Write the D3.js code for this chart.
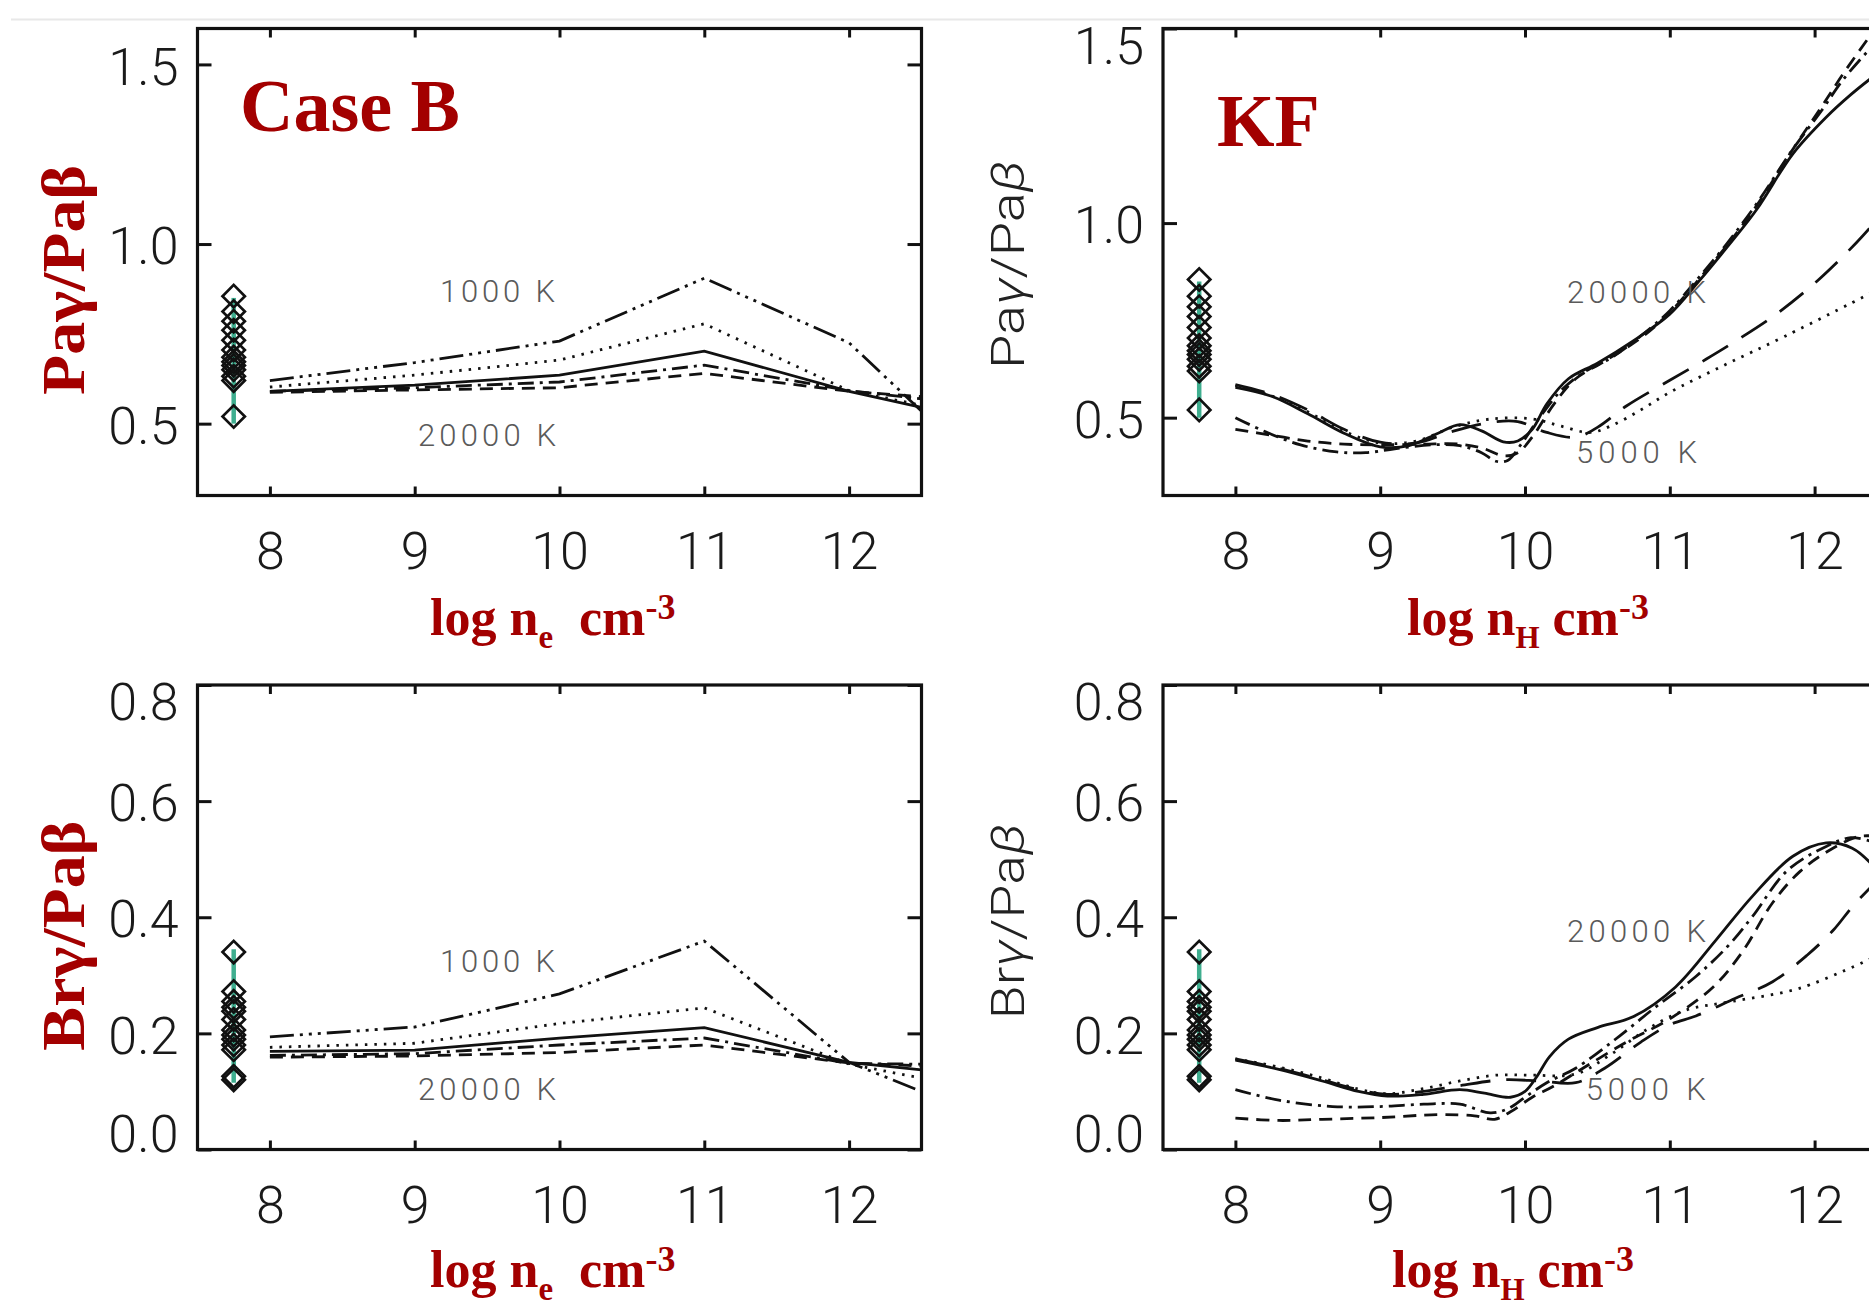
<!DOCTYPE html>
<html lang="en">
<head>
<meta charset="UTF-8">
<title>Pa / Br line ratios</title>
<script src="https://cdn.jsdelivr.net/npm/d3@7"></script>
<style>
  body { margin: 0; background: #fff; }
  svg { display: block; }
</style>
</head>
<body>
<script>

// ---- data ----
var xTicks = [8, 9, 10, 11, 12];

// Case B, vertices at log ne
var caseBx = [8, 9, 10, 11, 12, 12.5];
var caseBPag1000   = [0.620, 0.670, 0.730, 0.905, 0.725, 0.535];
var caseBPagDotted = [0.602, 0.635, 0.677, 0.778, 0.592, 0.551];
var caseBPagSolid  = [0.590, 0.607, 0.635, 0.702, 0.590, 0.545];
var caseBPagDashDot= [0.590, 0.600, 0.616, 0.663, 0.592, 0.569];
var caseBPag20000  = [0.587, 0.594, 0.600, 0.640, 0.590, 0.575];

var caseBBrg1000   = [0.194, 0.211, 0.268, 0.359, 0.150, 0.100];
var caseBBrgDotted = [0.176, 0.183, 0.217, 0.244, 0.147, 0.123];
var caseBBrgSolid  = [0.169, 0.171, 0.192, 0.210, 0.150, 0.137];
var caseBBrgDashDot= [0.162, 0.165, 0.180, 0.192, 0.148, 0.147];
var caseBBrg20000  = [0.159, 0.161, 0.167, 0.180, 0.149, 0.144];

// KF models, [log nH, ratio]
var kfPagSolid = [[8,0.578],[8.25,0.555],[8.5,0.51],[8.75,0.46],[9.0,0.425],[9.2,0.428],[9.4,0.46],[9.55,0.482],[9.7,0.466],[9.85,0.438],[9.95,0.44],[10.05,0.47],[10.15,0.535],[10.3,0.6],[10.5,0.64],[10.75,0.698],[11.0,0.766],[11.2,0.85],[11.4,0.94],[11.6,1.035],[11.85,1.178],[12.08,1.272],[12.25,1.33],[12.4,1.375]];
var kfPagDashDot = [[8,0.50],[8.2,0.465],[8.45,0.43],[8.7,0.412],[8.9,0.41],[9.1,0.42],[9.35,0.43],[9.55,0.428],[9.7,0.41],[9.8,0.388],[9.88,0.39],[9.97,0.43],[10.1,0.5],[10.25,0.57],[10.4,0.615],[10.6,0.655],[10.8,0.71],[11.0,0.775],[11.2,0.86],[11.4,0.95],[11.6,1.05],[11.85,1.19],[12.05,1.29],[12.2,1.37],[12.4,1.455]];
var kfPagDashed = [[8,0.47],[8.25,0.455],[8.5,0.44],[8.75,0.432],[9.0,0.43],[9.3,0.432],[9.55,0.432],[9.72,0.42],[9.85,0.402],[9.95,0.41],[10.05,0.45],[10.2,0.535],[10.35,0.6],[10.55,0.645],[10.8,0.705],[11.0,0.77],[11.2,0.855],[11.4,0.945],[11.6,1.045],[11.85,1.19],[12.05,1.3],[12.2,1.385],[12.4,1.49]];
var kfPagLongDash = [[8,0.585],[8.25,0.56],[8.5,0.52],[8.75,0.47],[9.0,0.437],[9.25,0.435],[9.5,0.465],[9.75,0.487],[9.95,0.49],[10.15,0.462],[10.35,0.45],[10.5,0.475],[10.7,0.53],[11.0,0.596],[11.25,0.65],[11.46,0.698],[11.735,0.766],[12.02,0.852],[12.29,0.95],[12.4,0.995]];
var kfPagDotted = [[8,0.582],[8.25,0.556],[8.5,0.515],[8.75,0.465],[9.0,0.435],[9.25,0.44],[9.5,0.475],[9.75,0.496],[10.05,0.497],[10.25,0.478],[10.45,0.462],[10.6,0.48],[10.8,0.52],[11.0,0.565],[11.36,0.632],[11.8,0.71],[12.4,0.822]];

var kfBrgSolid = [[8,0.154],[8.3,0.138],[8.6,0.118],[8.85,0.1],[9.05,0.092],[9.3,0.095],[9.55,0.103],[9.72,0.097],[9.9,0.09],[10.0,0.1],[10.08,0.125],[10.17,0.16],[10.3,0.19],[10.5,0.21],[10.75,0.229],[11.04,0.28],[11.32,0.361],[11.57,0.436],[11.85,0.505],[12.08,0.528],[12.26,0.519],[12.4,0.49]];
var kfBrgDashDot = [[8,0.103],[8.3,0.085],[8.67,0.074],[9.0,0.074],[9.3,0.078],[9.55,0.078],[9.76,0.063],[9.88,0.07],[10.0,0.09],[10.15,0.115],[10.35,0.14],[10.62,0.189],[10.9,0.245],[11.18,0.298],[11.4,0.35],[11.57,0.401],[11.81,0.48],[12.08,0.522],[12.25,0.537],[12.4,0.53]];
var kfBrgDashed = [[8,0.054],[8.3,0.05],[8.6,0.052],[9.0,0.055],[9.4,0.06],[9.65,0.058],[9.79,0.052],[9.9,0.065],[10.05,0.09],[10.19,0.108],[10.4,0.14],[10.7,0.185],[11.0,0.225],[11.3,0.28],[11.5,0.34],[11.71,0.425],[11.9,0.479],[12.1,0.515],[12.3,0.539],[12.4,0.54]];
var kfBrgLongDash = [[8,0.156],[8.3,0.14],[8.6,0.12],[8.85,0.103],[9.05,0.095],[9.3,0.1],[9.55,0.11],[9.85,0.12],[10.1,0.118],[10.35,0.115],[10.55,0.14],[10.8,0.185],[11.0,0.215],[11.18,0.23],[11.45,0.26],[11.71,0.289],[11.95,0.335],[12.13,0.378],[12.26,0.418],[12.4,0.455]];
var kfBrgDotted = [[8,0.156],[8.3,0.142],[8.6,0.123],[8.85,0.104],[9.05,0.096],[9.3,0.105],[9.55,0.118],[9.8,0.128],[10.05,0.128],[10.35,0.13],[10.6,0.165],[10.85,0.208],[11.11,0.24],[11.43,0.255],[11.9,0.278],[12.4,0.33]];

// observed ratios (diamonds) and their range bar
var obsX = 7.75;
var obsPag = [0.855, 0.812, 0.785, 0.76, 0.732, 0.705, 0.685, 0.672, 0.662, 0.65, 0.632, 0.62, 0.52];
var obsBrg = [0.34, 0.272, 0.255, 0.245, 0.238, 0.224, 0.206, 0.197, 0.19, 0.18, 0.172, 0.126, 0.12];
var obsPagRange = [0.50, 0.85];
var obsBrgRange = [0.115, 0.345];

// ---- styles ----
var dash = {
    solid: null,
    dotted: "2.5,7",
    dashed: "13,8",
    dashdot: "16,6,3,6",
    dash3dot: "24,6,3,6,3,6,3,6",
    longdash: "30,16"
};
var ink = "#111";
var red = "#a30000";
var teal = "#3fae8f";
var thin = "Roboto, 'Open Sans', 'DejaVu Sans', sans-serif";
var serif = "'Liberation Serif', 'Times New Roman', serif";

// 画布
var width = 1869, height = 1308;
var svg = d3.select("body").append("svg")
    .attr("width", width)
    .attr("height", height);

svg.append("line")
    .attr("x1", 11).attr("x2", width)
    .attr("y1", 19.5).attr("y2", 19.5)
    .attr("stroke", "#e8e8e8").attr("stroke-width", 2);

function caseB(arr) {
    return caseBx.map(function (v, i) { return [v, arr[i]]; });
}

var panelW = 724;

function drawPanel(p) {
    var x = d3.scaleLinear().domain([7.5, 12.5]).range([p.left, p.left + panelW]);
    var y = d3.scaleLinear().domain(p.yDomain).range([p.bottom, p.top]);
    var g = svg.append("g");

    svg.append("clipPath").attr("id", "clip" + p.id)
        .append("rect")
        .attr("x", p.left).attr("y", p.top)
        .attr("width", panelW).attr("height", p.bottom - p.top);

    // observation range bar + diamonds
    g.append("line")
        .attr("x1", x(obsX)).attr("x2", x(obsX))
        .attr("y1", y(p.obsRange[0])).attr("y2", y(p.obsRange[1]))
        .attr("stroke", teal).attr("stroke-width", 4.5);

    g.selectAll(".obs").data(p.obs).enter()
        .append("path")
        .attr("class", "obs")
        .attr("d", d3.symbol(d3.symbolSquare, 250)())
        .attr("transform", function (d) { return "translate(" + x(obsX) + "," + y(d) + ") rotate(45)"; })
        .attr("fill", "none")
        .attr("stroke", ink)
        .attr("stroke-width", 2.7);

    // model curves
    var line = d3.line()
        .x(function (d) { return x(d[0]); })
        .y(function (d) { return y(d[1]); })
        .curve(p.smooth ? d3.curveCatmullRom.alpha(0.5) : d3.curveLinear);

    g.append("g").attr("clip-path", "url(#clip" + p.id + ")")
        .selectAll("path").data(p.curves).enter()
        .append("path")
        .attr("d", function (d) { return line(d.pts); })
        .attr("fill", "none")
        .attr("stroke", ink)
        .attr("stroke-width", 2.8)
        .attr("stroke-dasharray", function (d) { return dash[d.style]; });

    // axes
    var ax = [
        [d3.axisBottom(x).tickValues(xTicks).tickSize(-9).tickPadding(37).tickFormat(d3.format("d")), "translate(0," + p.bottom + ")"],
        [d3.axisTop(x).tickValues(xTicks).tickSize(-9).tickFormat(""), "translate(0," + p.top + ")"],
        [d3.axisLeft(y).tickValues(p.yTicks).tickSize(-14).tickPadding(19).tickFormat(d3.format(".1f")), "translate(" + p.left + ",0)"],
        [d3.axisRight(y).tickValues(p.yTicks).tickSize(-14).tickFormat(""), "translate(" + (p.left + panelW) + ",0)"]
    ];
    ax.forEach(function (a, i) {
        var ag = g.append("g").attr("transform", a[1]).call(a[0].tickSizeOuter(0));
        ag.select(".domain").remove();
        ag.attr("font-family", thin).attr("font-size", 52).attr("font-weight", 300);
        ag.selectAll(".tick line").attr("stroke", ink).attr("stroke-width", 3);
        ag.selectAll(".tick text").attr("fill", "#1a1a1a");
        if (i === 2) {
            // end labels sit inside the frame
            ag.selectAll(".tick text")
                .attr("y", function (d) {
                    if (d === p.yDomain[1]) return 18;
                    if (d === p.yDomain[0]) return -15;
                    return 3;
                });
        }
    });

    // frame
    g.append("rect")
        .attr("x", p.left).attr("y", p.top)
        .attr("width", panelW).attr("height", p.bottom - p.top)
        .attr("fill", "none").attr("stroke", ink).attr("stroke-width", 3.2);

    // temperature notes
    g.selectAll(".note").data(p.notes).enter()
        .append("text")
        .attr("x", function (d) { return x(d.x); })
        .attr("y", function (d) { return y(d.y); })
        .attr("textLength", function (d) { return d.w; })
        .attr("lengthAdjust", "spacing")
        .attr("font-family", thin).attr("font-weight", 300)
        .attr("font-size", 31).attr("fill", "#5a5a5a")
        .text(function (d) { return d.t; });

    // big model label
    if (p.label) {
        g.append("text")
            .attr("x", p.left + p.label.dx).attr("y", p.top + p.label.dy)
            .attr("font-family", serif).attr("font-weight", "bold")
            .attr("font-size", 74).attr("fill", red)
            .text(p.label.t);
    }

    // y title
    var yc = (p.top + p.bottom) / 2 + p.yTitle.dy;
    var yt = g.append("text")
        .attr("transform", "translate(" + p.yTitle.x + "," + yc + ") rotate(-90)")
        .attr("text-anchor", "middle")
        .attr("textLength", p.yTitle.len)
        .attr("lengthAdjust", "spacingAndGlyphs");
    if (p.yTitle.bold) {
        yt.attr("font-family", serif).attr("font-weight", "bold")
            .attr("font-size", 62).attr("fill", red)
            .text(p.yTitle.a + "γ/Paβ");
    } else {
        yt.attr("font-family", thin).attr("font-weight", 300)
            .attr("font-size", 46).attr("fill", "#222");
        yt.append("tspan").text(p.yTitle.a);
        yt.append("tspan").attr("font-style", "italic").text("γ");
        yt.append("tspan").text("/Pa");
        yt.append("tspan").attr("font-style", "italic").text("β");
    }

    // x title
    var xt = g.append("text")
        .attr("x", p.xTitle.x).attr("y", p.bottom + p.xTitle.dy)
        .attr("font-family", serif).attr("font-weight", "bold")
        .attr("font-size", 52).attr("fill", red)
        .style("white-space", "pre");
    xt.append("tspan").text("log n");
    xt.append("tspan").attr("font-size", p.xTitle.sub === "e" ? 33 : 31).attr("dy", 13).text(p.xTitle.sub);
    xt.append("tspan").attr("dy", -13).text(p.xTitle.sub === "e" ? "  cm" : " cm");
    xt.append("tspan").attr("font-size", 36).attr("dy", -16).text("-3");
}

var panels = [
    {
        id: "tl", left: 197.5, top: 28.5, bottom: 495.5,
        yDomain: [0.3, 1.6], yTicks: [0.5, 1.0, 1.5], smooth: false,
        obs: obsPag, obsRange: obsPagRange,
        curves: [
            { style: "dash3dot", pts: caseB(caseBPag1000) },
            { style: "dotted", pts: caseB(caseBPagDotted) },
            { style: "solid", pts: caseB(caseBPagSolid) },
            { style: "dashdot", pts: caseB(caseBPagDashDot) },
            { style: "dashed", pts: caseB(caseBPag20000) }
        ],
        notes: [
            { t: "1000  K", x: 9.175, y: 0.839, w: 115 },
            { t: "20000  K", x: 9.023, y: 0.438, w: 138 }
        ],
        label: { t: "Case B", dx: 42.5, dy: 102.5 },
        yTitle: { a: "Pa", bold: true, x: 84, dy: 18, len: 230 },
        xTitle: { x: 430, sub: "e", dy: 139 }
    },
    {
        id: "tr", left: 1163, top: 28.5, bottom: 495.5,
        yDomain: [0.3, 1.5], yTicks: [0.5, 1.0, 1.5], smooth: true,
        obs: obsPag, obsRange: obsPagRange,
        curves: [
            { style: "solid", pts: kfPagSolid },
            { style: "dashdot", pts: kfPagDashDot },
            { style: "dashed", pts: kfPagDashed },
            { style: "longdash", pts: kfPagLongDash },
            { style: "dotted", pts: kfPagDotted }
        ],
        notes: [
            { t: "20000  K", x: 10.29, y: 0.795, w: 139 },
            { t: "5000  K", x: 10.352, y: 0.384, w: 121 }
        ],
        label: { t: "KF", dx: 54, dy: 117.5 },
        yTitle: { a: "Pa", bold: false, x: 1024, dy: 2.6, len: 209 },
        xTitle: { x: 1407, sub: "H", dy: 139 }
    },
    {
        id: "bl", left: 197.5, top: 685, bottom: 1149.5,
        yDomain: [0, 0.8], yTicks: [0, 0.2, 0.4, 0.6, 0.8], smooth: false,
        obs: obsBrg, obsRange: obsBrgRange,
        curves: [
            { style: "dash3dot", pts: caseB(caseBBrg1000) },
            { style: "dotted", pts: caseB(caseBBrgDotted) },
            { style: "solid", pts: caseB(caseBBrgSolid) },
            { style: "dashdot", pts: caseB(caseBBrgDashDot) },
            { style: "dashed", pts: caseB(caseBBrg20000) }
        ],
        notes: [
            { t: "1000  K", x: 9.175, y: 0.306, w: 115 },
            { t: "20000  K", x: 9.023, y: 0.085, w: 138 }
        ],
        label: null,
        yTitle: { a: "Br", bold: true, x: 84, dy: 18.5, len: 230 },
        xTitle: { x: 430, sub: "e", dy: 137 }
    },
    {
        id: "br", left: 1163, top: 685, bottom: 1149.5,
        yDomain: [0, 0.8], yTicks: [0, 0.2, 0.4, 0.6, 0.8], smooth: true,
        obs: obsBrg, obsRange: obsBrgRange,
        curves: [
            { style: "solid", pts: kfBrgSolid },
            { style: "dashdot", pts: kfBrgDashDot },
            { style: "dashed", pts: kfBrgDashed },
            { style: "longdash", pts: kfBrgLongDash },
            { style: "dotted", pts: kfBrgDotted }
        ],
        notes: [
            { t: "20000  K", x: 10.29, y: 0.357, w: 139 },
            { t: "5000  K", x: 10.42, y: 0.085, w: 120 }
        ],
        label: null,
        yTitle: { a: "Br", bold: false, x: 1024, dy: 4, len: 196 },
        xTitle: { x: 1392, sub: "H", dy: 137 }
    }
];

panels.forEach(drawPanel);

</script>
</body>
</html>
